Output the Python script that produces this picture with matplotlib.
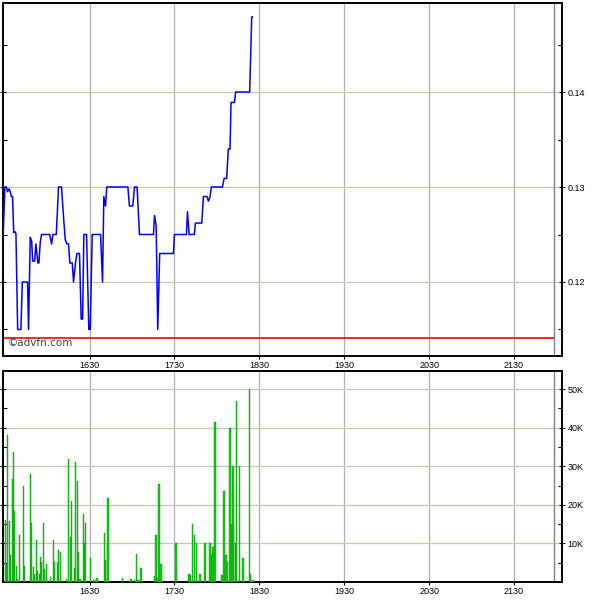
import matplotlib
matplotlib.use("Agg")
import matplotlib.pyplot as plt
from matplotlib.ticker import FixedLocator, FuncFormatter

# ---- data (minutes since 15:30) ----
price_times = [-1.0, 0.2, 1.2, 2.1, 3.1, 4.0, 4.7, 5.6, 6.4, 7.3, 8.0, 9.2, 11.5, 12.5, 16.2,
               16.9, 18.1, 19.1, 19.8, 21.2, 22.1, 23.5, 24.2, 25.2, 26.1, 31.8, 33.2, 34.1,
               36.5, 38.1, 40.2, 41.6, 42.8, 44.0, 45.2, 46.1, 47.8, 48.7, 50.1, 51.1, 52.9,
               54.1, 55.1, 56.0, 57.9, 59.5, 60.5, 61.9, 67.8, 69.2, 70.1, 71.3, 72.2, 87.1,
               88.2, 90.6, 91.8, 93.6, 95.3, 105.2, 105.9, 107.1, 108.2, 109.6, 119.3, 120.0,
               128.5, 129.2, 130.4, 134.1, 134.8, 139.3, 140.5, 143.1, 144.0, 145.2, 146.1,
               153.9, 155.1, 156.9, 158.1, 159.3, 160.0, 162.4, 163.3, 173.2, 174.6, 175.1]
prices = [0.125, 0.130, 0.130, 0.1295, 0.1298, 0.1295, 0.129, 0.129, 0.1252, 0.1253, 0.1251,
          0.115, 0.115, 0.120, 0.120, 0.115, 0.1247, 0.1243, 0.1222, 0.1222, 0.124, 0.122,
          0.122, 0.1242, 0.125, 0.125, 0.124, 0.125, 0.125, 0.130, 0.130, 0.1269, 0.1245,
          0.124, 0.124, 0.122, 0.122, 0.120, 0.122, 0.123, 0.123, 0.1161, 0.1161, 0.125,
          0.125, 0.115, 0.115, 0.125, 0.125, 0.120, 0.129, 0.128, 0.130, 0.130, 0.128, 0.128,
          0.130, 0.130, 0.125, 0.125, 0.127, 0.1259, 0.115, 0.123, 0.123, 0.125, 0.125,
          0.1274, 0.125, 0.125, 0.1262, 0.1262, 0.129, 0.129, 0.1285, 0.129, 0.130, 0.130,
          0.1309, 0.1309, 0.134, 0.134, 0.1389, 0.1389, 0.140, 0.140, 0.1479, 0.1479]

vol_times = [0, 0.7, 1.4, 2.8, 3.5, 4.9, 5.6, 6.4, 7.8, 8.5, 9.9, 12.7, 13.4, 17.6, 18.4, 19.8,
             20.5, 21.9, 22.6, 24.0, 24.7, 25.4, 26.8, 27.5, 28.9, 31.8, 33.9, 34.6, 36.7,
             37.4, 38.8, 43.1, 44.5, 45.9, 46.6, 48.7, 49.4, 50.8, 51.5, 52.9, 55.1, 55.8,
             56.5, 60.0, 62.8, 64.9, 69.9, 70.6, 72.0, 72.7, 82.6, 88.9, 91.1, 92.5, 93.9,
             96.0, 105.9, 106.6, 108.0, 108.7, 110.1, 120.7, 129.9, 130.6, 132.2, 133.9,
             135.2, 137.6, 141.2, 144.7, 146.1, 146.8, 148.2, 153.2, 154.6, 156.0, 156.7,
             158.8, 160.2, 160.9, 161.6, 163.0, 163.7, 165.8, 168.0, 172.9, 173.6, 175.1]
volumes_k = [16.2, 4.6, 38.2, 15.9, 6.9, 26.6, 33.8, 18.3, 4.1, 0.9, 12.1, 25.0, 4.1, 28.1,
             15.2, 3.8, 2.2, 11.0, 2.9, 2.2, 6.4, 5.1, 15.2, 3.3, 4.6, 1.2, 10.8, 5.1, 5.3,
             8.4, 7.9, 0.9, 32.0, 11.6, 21.1, 3.5, 31.2, 26.3, 7.7, 0.9, 17.5, 10.0, 15.4,
             6.1, 0.5, 1.0, 12.8, 5.6, 10.0, 21.9, 1.0, 0.7, 0.4, 7.2, 0.4, 3.5, 1.5, 12.1,
             1.0, 25.5, 4.6, 10.0, 2.0, 1.7, 15.1, 12.3, 10.0, 2.0, 10.0, 10.0, 7.1, 9.0,
             41.5, 1.7, 23.7, 7.1, 5.1, 40.0, 15.1, 30.1, 15.1, 10.0, 46.9, 30.1, 6.1, 50.0,
             2.0, 0.4]
volumes = [v * 1000 for v in volumes_k]

prev_close = 0.1141
session_end = 388.5
x_tick_pos = [60, 120, 180, 240, 300, 360]
x_tick_labels = ["1630", "1730", "1830", "1930", "2030", "2130"]
price_ticks = [0.12, 0.13, 0.14]
price_minor = [0.115, 0.125, 0.135, 0.145]
vol_ticks = [10000, 20000, 30000, 40000, 50000]
vol_minor = [5000, 15000, 25000, 35000, 45000]

XMIN, XMAX = -1.15, 393.9

plt.rcParams['font.family'] = ['Liberation Sans', 'DejaVu Sans']
fig = plt.figure(figsize=(6, 6), dpi=100)
ax1 = fig.add_axes([3/600, 1 - 356/600, 559/600, 353/600])
ax2 = fig.add_axes([3/600, 1 - 582/600, 559/600, 211/600])

hgrid_col = '#c6c8b2'
vgrid_col = '#b0b0b0'

for ax in (ax1, ax2):
    for s in ax.spines.values():
        s.set_linewidth(1.4)
        s.set_color('black')
    ax.set_xlim(XMIN, XMAX)
    ax.xaxis.set_major_locator(FixedLocator(x_tick_pos))
    ax.set_xticklabels(x_tick_labels)
    ax.tick_params(axis='x', direction='out', length=2, width=0.8, labelsize=6.5, pad=1.5)
    ax.yaxis.tick_right()
    ax.tick_params(axis='y', which='major', direction='inout', length=5, width=0.8,
                   labelsize=6.5, pad=1.5, left=True, right=True, labelleft=False, labelright=True)
    ax.tick_params(axis='y', which='minor', direction='in', length=3, width=0.8,
                   left=True, right=True)
    ax.xaxis.grid(True, which='major', color=vgrid_col, linewidth=0.9, linestyle='-')
    ax.yaxis.grid(True, which='major', color=hgrid_col, linewidth=0.9, linestyle='-')
    ax.set_axisbelow(True)
    ax.axvline(session_end, color='#808080', linewidth=1.0, zorder=1)
    ax.set_facecolor('white')

# price panel
ax1.set_ylim(0.11221, 0.14937)
ax1.yaxis.set_major_locator(FixedLocator(price_ticks))
ax1.yaxis.set_minor_locator(FixedLocator(price_minor))
ax1.yaxis.set_major_formatter(FuncFormatter(lambda v, p: f"{v:.2f}"))
ax1.plot(price_times, prices, color='#0000ff', linewidth=1.1, zorder=3)
ax1.hlines(prev_close, XMIN, session_end, color='#ff0000', linewidth=1.2, zorder=2)
ax1.text(0.008, 0.022, "©advfn.com", transform=ax1.transAxes, fontsize=7.5,
         color='#404040', ha='left', va='bottom', family=['DejaVu Sans'])

# volume panel
ax2.set_ylim(0, 54700)
ax2.yaxis.set_major_locator(FixedLocator(vol_ticks))
ax2.yaxis.set_minor_locator(FixedLocator(vol_minor))
ax2.yaxis.set_major_formatter(FuncFormatter(lambda v, p: f"{int(round(v/1000))}K"))
ax2.bar(vol_times, volumes, width=0.85, color='#11cc11', edgecolor='#0a9a0a',
        linewidth=0.3, zorder=3, align='edge')

fig.savefig("out.png", dpi=100, facecolor='white')
